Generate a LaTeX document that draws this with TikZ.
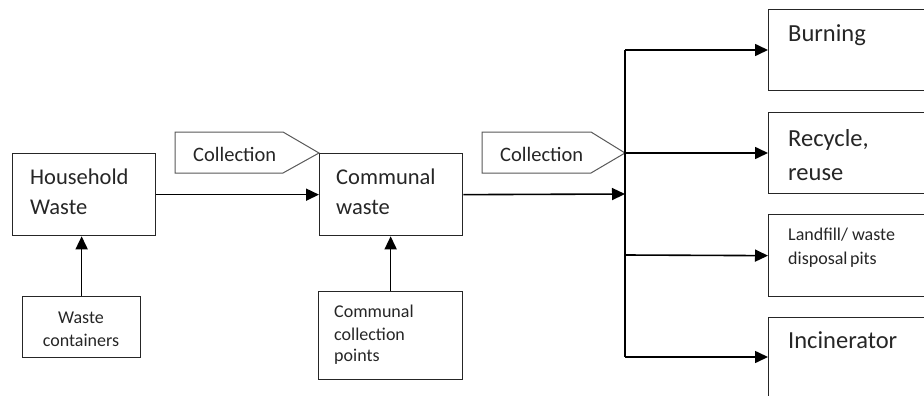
\documentclass[tikz,border=0pt]{standalone}
\usepackage{fontspec}
\setmainfont{Carlito}
\usetikzlibrary{arrows.meta}
\begin{document}
\begin{tikzpicture}[x=1pt,y=-1pt,
  box/.style={draw=black!85, line width=1.3pt, inner sep=0pt, anchor=north west},
  conn/.style={line width=1.6pt, -{Triangle[length=13pt,width=12pt]}},
  plain/.style={line width=1.6pt},
  pent/.style={draw=black!65, line width=1pt},
  txt/.style={anchor=base west, inner sep=0pt, text=black!85},
  ctxt/.style={anchor=base, inner sep=0pt, text=black!85},
  fmid/.style={font=\fontsize{22.5}{27}\selectfont},
  fbig/.style={font=\fontsize{24.5}{29}\selectfont},
  fcol/.style={font=\fontsize{20.5}{25}\selectfont},
  fsml/.style={font=\fontsize{18}{22}\selectfont}]
\useasboundingbox (0,0) rectangle (924,396);
\clip (0,0) rectangle (924,396);
\fill[white] (0,0) rectangle (924,396);

% boxes
\node[box, minimum width=143pt, minimum height=82pt] (hw) at (12,153) {};
\node[box, minimum width=143pt, minimum height=82pt] (cw) at (319,153) {};
\node[box, minimum width=118pt, minimum height=61pt] (wc) at (22,296) {};
\node[box, minimum width=144pt, minimum height=88pt] (cp) at (318,291) {};
\node[box, minimum width=200pt, minimum height=81pt] (bu) at (768,9) {};
\node[box, minimum width=200pt, minimum height=81pt] (re) at (768,112) {};
\node[box, minimum width=200pt, minimum height=82pt] (lf) at (768,214) {};
\node[box, minimum width=200pt, minimum height=80pt] (in) at (768,317) {};

% texts
\node[txt, fmid] (hw1) at (30,184) {Household};
\node[txt, fmid] (hw2) at (30,214) {Waste};
\node[txt, fmid] (cw1) at (336,184) {Communal};
\node[txt, fmid] (cw2) at (336,214) {waste};
\node[ctxt, fsml] (wc1) at (81,323) {Waste};
\node[ctxt, fsml] (wc2) at (81,346) {containers};
\node[txt, fsml] (cp1) at (334,317) {Communal};
\node[txt, fsml] (cp2) at (334,340) {collection};
\node[txt, fsml] (cp3) at (334,361) {points};
\node[txt, fbig] (bu1) at (788,42) {Burning};
\node[txt, fbig] (re1) at (788,146) {Recycle,};
\node[txt, fbig] (re2) at (788,180) {reuse};
\node[txt, fsml] (lf1) at (788,240) {Landfill/ waste};
\node[txt, fsml] (lf2) at (788,264) {disposal\hspace{-1.5pt} pits};
\node[txt, fbig] (in1) at (788,348) {Incinerator};

% collection tags
\draw[pent] (175,132) -- (283,132) -- (cw.north west) -- (283,173) -- (175,173) -- cycle;
\node[txt, fcol] (col1) at (193,161) {Collection};
\coordinate (jt) at (625,50);
\coordinate (jb) at (625,357);
\coordinate (jm) at (625,194);
\coordinate (tip2) at (625,153);
\draw[pent] (482,132) -- (591,132) -- (tip2) -- (591,173) -- (482,173) -- cycle;
\node[txt, fcol] (col2) at (500,161) {Collection};

% connectors
\draw[conn] (hw.east) -- (cw.west);
\draw[conn] (cw.east) -- (jm);
\draw[conn] (wc.north) -- (wc.north |- hw.south);
\draw[conn] (cp.north) -- (cp.north |- cw.south);
\draw[plain] (jt) -- (jb);
\draw[conn] (jt) -- (jt -| bu.west);
\draw[conn] (tip2) -- (tip2 -| re.west);
\draw[conn] (625,255) -- (lf.west);
\draw[conn] (jb) -- (jb -| in.west);
\end{tikzpicture}
\end{document}
